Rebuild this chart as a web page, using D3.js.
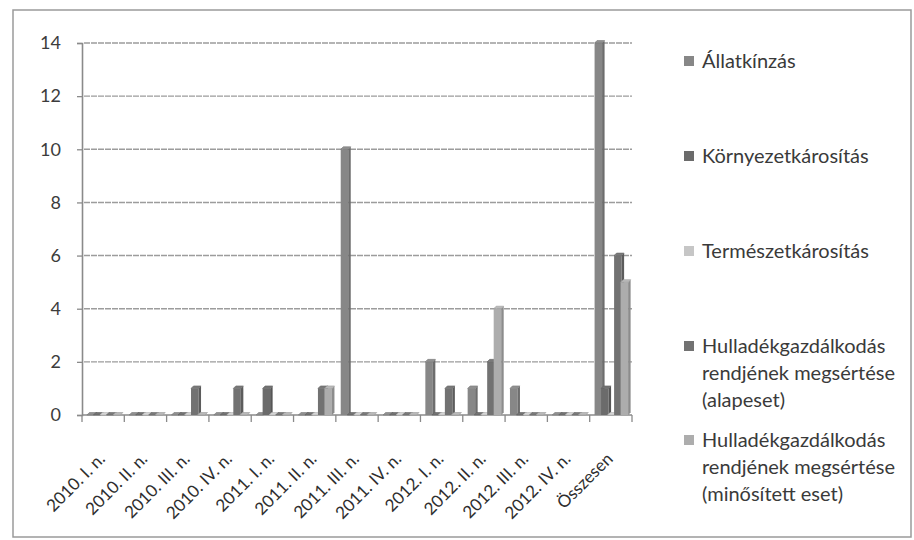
<!DOCTYPE html>
<html>
<head>
<meta charset="utf-8">
<script src="https://cdn.jsdelivr.net/npm/d3@7"></script>
<style>
  html, body { margin: 0; padding: 0; background: #fff; }
  svg { display: block; font-family: Lato, "Open Sans", sans-serif; }
</style>
</head>
<body>
<svg id="chart" width="914" height="540"></svg>
<script>
// Quarterly case counts by offence type, plus the overall totals
const categories = ["2010. I. n.", "2010. II. n.", "2010. III. n.", "2010. IV. n.",
  "2011. I. n.", "2011. II. n.", "2011. III. n.", "2011. IV. n.",
  "2012. I. n.", "2012. II. n.", "2012. III. n.", "2012. IV. n.", "Összesen"];

const seriesNames = ["Állatkínzás", "Környezetkárosítás", "Természetkárosítás",
  "Hulladékgazdálkodás rendjének megsértése (alapeset)",
  "Hulladékgazdálkodás rendjének megsértése (minősített eset)"];

const allatkinzas      = [0, 0, 0, 0, 0, 0, 10, 0, 2, 1, 1, 0, 14];
const kornyezet        = [0, 0, 0, 0, 1, 0, 0, 0, 0, 0, 0, 0, 1];
const termeszet        = [0, 0, 0, 0, 0, 0, 0, 0, 0, 0, 0, 0, 0];
const hulladekAlap     = [0, 0, 1, 1, 0, 1, 0, 0, 1, 2, 0, 0, 6];
const hulladekMinosit  = [0, 0, 0, 0, 0, 1, 0, 0, 0, 4, 0, 0, 5];

const yTicks = [0, 2, 4, 6, 8, 10, 12, 14];

// legend label lines
const legendLines = [
  ["Állatkínzás"],
  ["Környezetkárosítás"],
  ["Természetkárosítás"],
  ["Hulladékgazdálkodás", "rendjének megsértése", "(alapeset)"],
  ["Hulladékgazdálkodás", "rendjének megsértése", "(minősített eset)"]
];

const seriesValues = [allatkinzas, kornyezet, termeszet, hulladekAlap, hulladekMinosit];
const colors = ["#878787", "#6b6b6b", "#c6c6c6", "#727272", "#adadad"];

const svg = d3.select("#chart");

// outer frame
svg.append("rect")
  .attr("x", 13).attr("y", 10).attr("width", 898).attr("height", 527)
  .attr("fill", "none").attr("stroke", "#9a9a9a").attr("stroke-width", 1.5);

const plot = { left: 82, right: 632, top: 43, bottom: 415 };

const x0 = d3.scaleBand().domain(categories).range([plot.left, plot.right]).paddingInner(0).paddingOuter(0);
const x1 = d3.scaleBand().domain(d3.range(seriesNames.length)).range([0, x0.bandwidth()])
  .paddingInner(0).paddingOuter(0.75);
const y = d3.scaleLinear().domain([0, 14]).range([plot.bottom, plot.top]);

// gridlines
svg.append("g")
  .selectAll("line")
  .data(yTicks.filter(t => t > 0))
  .join("line")
  .attr("x1", plot.left + 2).attr("x2", plot.right)
  .attr("y1", d => y(d)).attr("y2", d => y(d))
  .attr("stroke", "#9c9c9c").attr("stroke-width", 1.4)
  .attr("stroke-dasharray", "6,1");

// y axis
const yAxis = svg.append("g")
  .attr("transform", `translate(${plot.left},0)`)
  .call(d3.axisLeft(y).tickValues(yTicks).tickSize(5).tickPadding(16));
yAxis.select(".domain").attr("stroke", "#8a8a8a").attr("stroke-width", 1.6);
yAxis.selectAll(".tick line").attr("stroke", "#8a8a8a").attr("stroke-width", 1.3);
yAxis.selectAll(".tick text").attr("font-size", 18).attr("fill", "#3c3c3c")
  .attr("font-family", "Lato, sans-serif");

// x axis line and boundary ticks
svg.append("line")
  .attr("x1", plot.left).attr("x2", plot.right)
  .attr("y1", plot.bottom).attr("y2", plot.bottom)
  .attr("stroke", "#8a8a8a").attr("stroke-width", 1.6);
const boundaries = categories.map(c => x0(c)).concat([plot.right]);
svg.append("g").selectAll("line")
  .data(boundaries)
  .join("line")
  .attr("x1", d => d).attr("x2", d => d)
  .attr("y1", plot.bottom).attr("y2", plot.bottom + 7)
  .attr("stroke", "#8a8a8a").attr("stroke-width", 1.3);

// 3D-style columns: front face, right side face and top face
const depth = 2.5;
const barW = x1.bandwidth() + 1;
const bars = [];
seriesValues.forEach((vals, s) => {
  vals.forEach((v, i) => bars.push({ s, i, v }));
});

const barG = svg.append("g");
bars.forEach(b => {
  const bx = x0(categories[b.i]) + x1(b.s);
  const by = y(b.v);
  const base = y(0);
  const c = d3.color(colors[b.s]);
  const g = barG.append("g");
  if (b.v > 0) {
    g.append("rect")
      .attr("x", bx).attr("y", by).attr("width", barW).attr("height", base - by)
      .attr("fill", colors[b.s]);
    g.append("path")
      .attr("d", `M${bx + barW},${by} L${bx + barW + depth},${by - depth} L${bx + barW + depth},${base - depth} L${bx + barW},${base} Z`)
      .attr("fill", c.darker(0.6));
  }
  g.append("path")
    .attr("d", `M${bx},${by} L${bx + barW},${by} L${bx + barW + depth},${by - depth} L${bx + depth},${by - depth} Z`)
    .attr("fill", c.brighter(0.2))
    .attr("stroke", c.darker(0.3)).attr("stroke-width", 0.6);
});

// category labels, rotated
svg.append("g").selectAll("text")
  .data(categories)
  .join("text")
  .attr("transform", d => `translate(${x0(d) + x0.bandwidth() / 2 + 3},${plot.bottom + 45}) rotate(-45)`)
  .attr("text-anchor", "end")
  .attr("font-size", 17)
  .attr("fill", "#2e2e2e")
  .text(d => d);

// legend
const legend = svg.append("g");
const legendTop = [68, 163, 258, 353, 447];
legendLines.forEach((lines, s) => {
  const ly = legendTop[s];
  legend.append("rect")
    .attr("x", 684).attr("y", ly - 12).attr("width", 10).attr("height", 10)
    .attr("fill", colors[s]);
  const t = legend.append("text")
    .attr("x", 702).attr("y", ly)
    .attr("font-size", 20).attr("fill", "#3a3a3a");
  lines.forEach((line, k) => {
    t.append("tspan").attr("x", 702).attr("y", ly + k * 27).text(line);
  });
});
</script>
</body>
</html>
